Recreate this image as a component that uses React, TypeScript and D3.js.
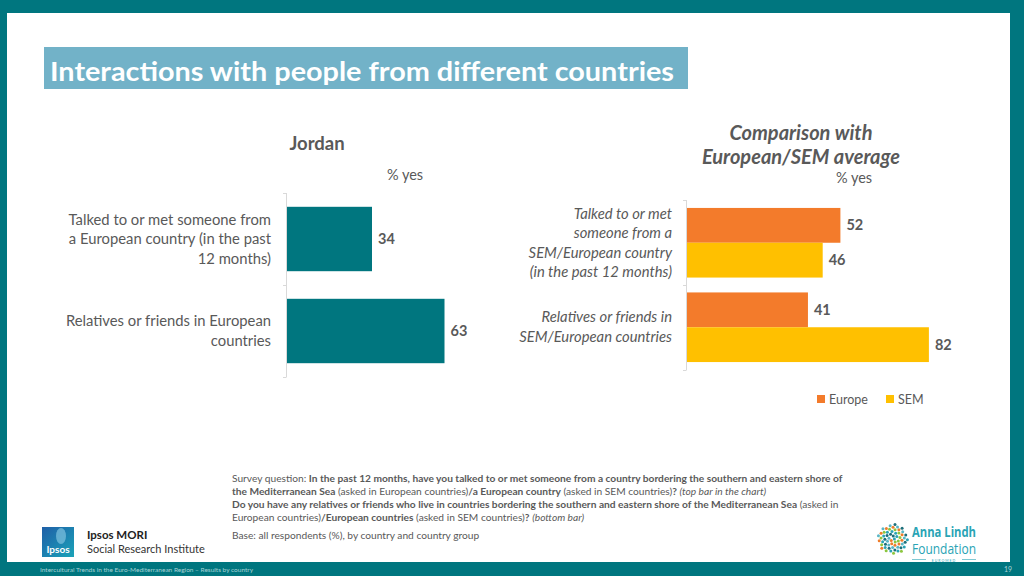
import React from "react";
import * as d3 from "d3";

const FONT = "Lato, 'Open Sans', sans-serif";
const GREY = "#595959";
const TEAL = "#00767F";
const ORANGE = "#F37B2B";
const YELLOW = "#FFC000";

// Left chart data (Jordan)
const jordanCategories = [
  ["Talked to or met someone from", "a European country (in the past", "12 months)"],
  ["Relatives or friends in European", "countries"],
];
const jordanValues = [34, 63];

// Right chart data (comparison)
const compCategories = [
  ["Talked to or met", "someone from a", "SEM/European country", "(in the past 12 months)"],
  ["Relatives or friends in", "SEM/European countries"],
];
const seriesNames = ["Europe", "SEM"];
const europeValues = [52, 41];
const semValues = [46, 82];
const seriesColors = [ORANGE, YELLOW];

export default function App() {
  // Left chart scales
  const lx = d3.scaleLinear().domain([0, 100]).range([287, 537]);
  const ly = d3
    .scaleBand<number>()
    .domain(jordanValues.map((_, i) => i))
    .range([193, 377])
    .paddingInner(0.3)
    .paddingOuter(0.15);

  // Right chart scales
  const rx = d3.scaleLinear().domain([0, 100]).range([687, 982]);
  const ry = d3
    .scaleBand<number>()
    .domain(compCategories.map((_, i) => i))
    .range([200, 370])
    .paddingInner(0.176)
    .paddingOuter(0.094);
  const rsub = d3
    .scaleBand<number>()
    .domain([0, 1])
    .range([0, ry.bandwidth()])
    .padding(0);
  const seriesValues = [europeValues, semValues];

  const lineH = 19.5;
  const catSize = 14.8;

  return (
    <svg width={1024} height={576} style={{ position: "absolute", left: 0, top: 0, display: "block" }} fontFamily={FONT}>
      {/* Frame */}
      <rect x={0} y={0} width={1024} height={576} fill={TEAL} />
      <rect x={7} y={13} width={1003} height={549} fill="#ffffff" />

      {/* Title */}
      <rect x={44} y={47} width={644} height={42} fill="#72B2C8" />
      <text x={50} y={81} fill="#ffffff" fontSize={26} fontWeight={700} textLength={624} lengthAdjust="spacingAndGlyphs">
        Interactions with people from different countries
      </text>

      {/* Left chart */}
      <text x={317} y={150} textAnchor="middle" fill={GREY} fontSize={18.5} fontWeight={700}>Jordan</text>
      <text x={405} y={180} textAnchor="middle" fill={GREY} fontSize={14.5}>% yes</text>
      <line x1={286.5} x2={286.5} y1={193} y2={377} stroke="#d9d9d9" />
      {[193, 285, 377].map((y) => (
        <line key={y} x1={283} x2={286.5} y1={y + 0.5} y2={y + 0.5} stroke="#d9d9d9" />
      ))}
      {jordanValues.map((v, i) => {
        const y0 = ly(i)!;
        const bw = ly.bandwidth();
        const cy = y0 + bw / 2;
        const lines = jordanCategories[i];
        return (
          <g key={i}>
            <rect x={lx(0)} y={y0} width={lx(v) - lx(0)} height={bw} fill={TEAL} />
            <text x={lx(v) + 6} y={cy + 5} fill={GREY} fontSize={14.5} fontWeight={700}>{v}</text>
            {lines.map((t, j) => (
              <text
                key={j}
                x={271}
                y={cy + (j - (lines.length - 1) / 2) * lineH + 5}
                textAnchor="end"
                fill={GREY}
                fontSize={catSize}
              >
                {t}
              </text>
            ))}
          </g>
        );
      })}

      {/* Right chart */}
      <text x={801} y={140} textAnchor="middle" fill={GREY} fontSize={20} fontWeight={700} fontStyle="italic">Comparison with</text>
      <text x={801} y={164} textAnchor="middle" fill={GREY} fontSize={20} fontWeight={700} fontStyle="italic">European/SEM average</text>
      <text x={854} y={183} textAnchor="middle" fill={GREY} fontSize={14.5}>% yes</text>
      <line x1={686.5} x2={686.5} y1={200} y2={370} stroke="#d9d9d9" />
      {[200, 285, 370].map((y) => (
        <line key={y} x1={683} x2={686.5} y1={y + 0.5} y2={y + 0.5} stroke="#d9d9d9" />
      ))}
      {compCategories.map((lines, i) => {
        const y0 = ry(i)!;
        const cy = y0 + ry.bandwidth() / 2;
        return (
          <g key={i}>
            {seriesValues.map((vals, s) => {
              const yy = y0 + rsub(s)!;
              const bh = rsub.bandwidth();
              return (
                <g key={s}>
                  <rect x={rx(0)} y={yy} width={rx(vals[i]) - rx(0)} height={bh} fill={seriesColors[s]} />
                  <text x={rx(vals[i]) + 6} y={yy + bh / 2 + 5} fill={GREY} fontSize={14.5} fontWeight={700}>{vals[i]}</text>
                </g>
              );
            })}
            {lines.map((t, j) => (
              <text
                key={j}
                x={672}
                y={cy + (j - (lines.length - 1) / 2) * lineH + 5}
                textAnchor="end"
                fill={GREY}
                fontSize={catSize}
                fontStyle="italic"
              >
                {t}
              </text>
            ))}
          </g>
        );
      })}

      {/* Legend */}
      {seriesNames.map((n, s) => {
        const x0 = s === 0 ? 817 : 886;
        return (
          <g key={n}>
            <rect x={x0} y={395} width={8} height={8} fill={seriesColors[s]} />
            <text x={x0 + 12} y={403.5} fill={GREY} fontSize={12.5}>{n}</text>
          </g>
        );
      })}

      {/* Footnote */}
      <g fontSize={10.2} fill={GREY}>
        <text x={232} y={482}>
          Survey question: <tspan fontWeight={700}>In the past 12 months, have you talked to or met someone from a country bordering the southern and eastern shore of</tspan>
        </text>
        <text x={232} y={495}>
          <tspan fontWeight={700}>the Mediterranean Sea</tspan> (asked in European countries)<tspan fontWeight={700}>/a European country</tspan> (asked in SEM countries)<tspan fontWeight={700}>?</tspan> <tspan fontStyle="italic">(top bar in the chart)</tspan>
        </text>
        <text x={232} y={508}>
          <tspan fontWeight={700}>Do you have any relatives or friends who live in  countries bordering the southern and eastern shore of the Mediterranean Sea</tspan> (asked in
        </text>
        <text x={232} y={521}>
          European countries)<tspan fontWeight={700}>/European countries</tspan> (asked in SEM countries)<tspan fontWeight={700}>?</tspan> <tspan fontStyle="italic">(bottom bar)</tspan>
        </text>
        <text x={232} y={539}>Base: all respondents (%), by country and country group</text>
      </g>

      {/* Ipsos logo */}
      <defs>
        <linearGradient id="ipsosGrad" x1="0" y1="0" x2="1" y2="1">
          <stop offset="0" stopColor="#1f5fa8" />
          <stop offset="1" stopColor="#1aa3b8" />
        </linearGradient>
      </defs>
      <rect x={42} y={527} width={32} height={30} fill="url(#ipsosGrad)" />
      <ellipse cx={61} cy={536} rx={5} ry={8} fill="#7fc3e0" opacity={0.7} />
      <text x={58} y={553} textAnchor="middle" fill="#ffffff" fontSize={10} fontWeight={700}>Ipsos</text>
      <text x={87} y={539} fill="#222" fontSize={11.5} fontWeight={700}>Ipsos MORI</text>
      <text x={87} y={553} fill="#333" fontSize={11}>Social Research Institute</text>

      {/* Anna Lindh logo */}
      <g>
        {d3.range(0, 60).map((k) => {
          const ang = k * 2.399963;
          const r = 15 * Math.sqrt((k + 0.5) / 60);
          const cols = ["#2aa4b5", "#f07d2b", "#1c6f7a", "#8cc63f", "#5ab7c6"];
          return (
            <circle
              key={k}
              cx={893 + r * Math.cos(ang)}
              cy={539 + r * Math.sin(ang)}
              r={1.5}
              fill={cols[k % cols.length]}
            />
          );
        })}
      </g>
      <text x={912} y={537} fill="#2aa4b5" fontSize={14.5} fontWeight={700} fontFamily="'Open Sans', sans-serif" textLength={64} lengthAdjust="spacingAndGlyphs">Anna Lindh</text>
      <text x={912} y={554} fill="#2aa4b5" fontSize={14} fontFamily="'Open Sans', sans-serif" textLength={64} lengthAdjust="spacingAndGlyphs">Foundation</text>
      <line x1={912} x2={926} y1={559.5} y2={559.5} stroke="#2aa4b5" strokeWidth={0.6} />
      <text x={944} y={561.5} textAnchor="middle" fill="#2aa4b5" fontSize={3.5} letterSpacing={1}>EUROMED</text>
      <line x1={962} x2={976} y1={559.5} y2={559.5} stroke="#2aa4b5" strokeWidth={0.6} />

      {/* Bottom band */}
      <text x={40} y={572} fill="#a8d3d6" fontSize={6.5}>Intercultural Trends in the Euro-Mediterranean Region – Results by country</text>
      <text x={1004} y={572} fill="#a8d3d6" fontSize={7}>19</text>
    </svg>
  );
}
